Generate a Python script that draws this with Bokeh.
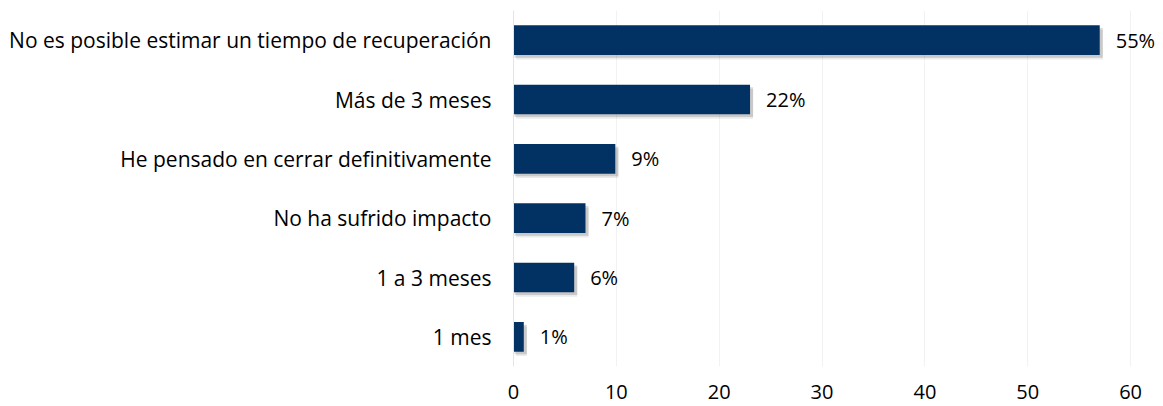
from bokeh.plotting import figure
from bokeh.models import ColumnDataSource, FactorRange, Range1d, FixedTicker
from bokeh.transform import dodge
from bokeh.core.properties import value
from bokeh.embed import file_html
from bokeh.resources import INLINE

categories = [
    "No es posible estimar un tiempo de recuperación",
    "Más de 3 meses",
    "He pensado en cerrar definitivamente",
    "No ha sufrido impacto",
    "1 a 3 meses",
    "1 mes",
]
values = [57.0, 23.0, 9.9, 7.0, 5.9, 1.0]
labels = ["55%", "22%", "9%", "7%", "6%", "1%"]
x_ticks = [0, 10, 20, 30, 40, 50, 60]

FONT = "Open Sans"
BAR = "#023263"

src = ColumnDataSource(dict(cat=categories, val=values, lab=labels,
                            sh=[v + 0.3 for v in values]))

p = figure(width=1163, height=406, output_backend="svg", toolbar_location=None,
           y_range=FactorRange(factors=list(reversed(categories))),
           x_range=Range1d(0, 63.2),
           min_border_left=513, min_border_right=0, min_border_top=10, min_border_bottom=40)
p.outline_line_color = None
p.background_fill_color = "white"
p.border_fill_color = "white"

# shadows
p.hbar(y=dodge("cat", -0.075, range=p.y_range), left=0.25, right="sh", height=0.5,
       source=src, fill_color="#000000", fill_alpha=0.08, line_color=None)
p.hbar(y=dodge("cat", -0.045, range=p.y_range), left=0.1, right="sh", height=0.5,
       source=src, fill_color="#000000", fill_alpha=0.14, line_color=None)
p.hbar(y="cat", left=0, right="val", height=0.5, source=src,
       fill_color=BAR, line_color=None)

p.text(x="val", y="cat", text="lab", source=src, x_offset=16,
       text_align="left", text_baseline="middle",
       text_font=value(FONT), text_font_size="20px", text_color="#000000")

p.xaxis.ticker = FixedTicker(ticks=x_ticks)
p.xaxis.axis_line_color = None
p.xaxis.major_tick_line_color = None
p.xaxis.major_tick_out = 0
p.xaxis.minor_tick_line_color = None
p.xaxis.major_label_standoff = 18
p.xaxis.major_label_text_font = FONT
p.xaxis.major_label_text_font_size = "20px"
p.xaxis.major_label_text_color = "#000000"

p.yaxis.axis_line_color = "#e4e4e4"
p.yaxis.major_tick_line_color = None
p.yaxis.major_tick_out = 0
p.yaxis.minor_tick_line_color = None
p.yaxis.major_label_standoff = 22
p.yaxis.major_label_text_font = FONT
p.yaxis.major_label_text_font_size = "21px"
p.yaxis.major_label_text_color = "#000000"

p.xgrid.ticker = FixedTicker(ticks=x_ticks[1:])
p.xgrid.grid_line_color = "#f2f2f2"
p.ygrid.grid_line_color = None

open("out.html", "w").write(file_html(p, INLINE))
